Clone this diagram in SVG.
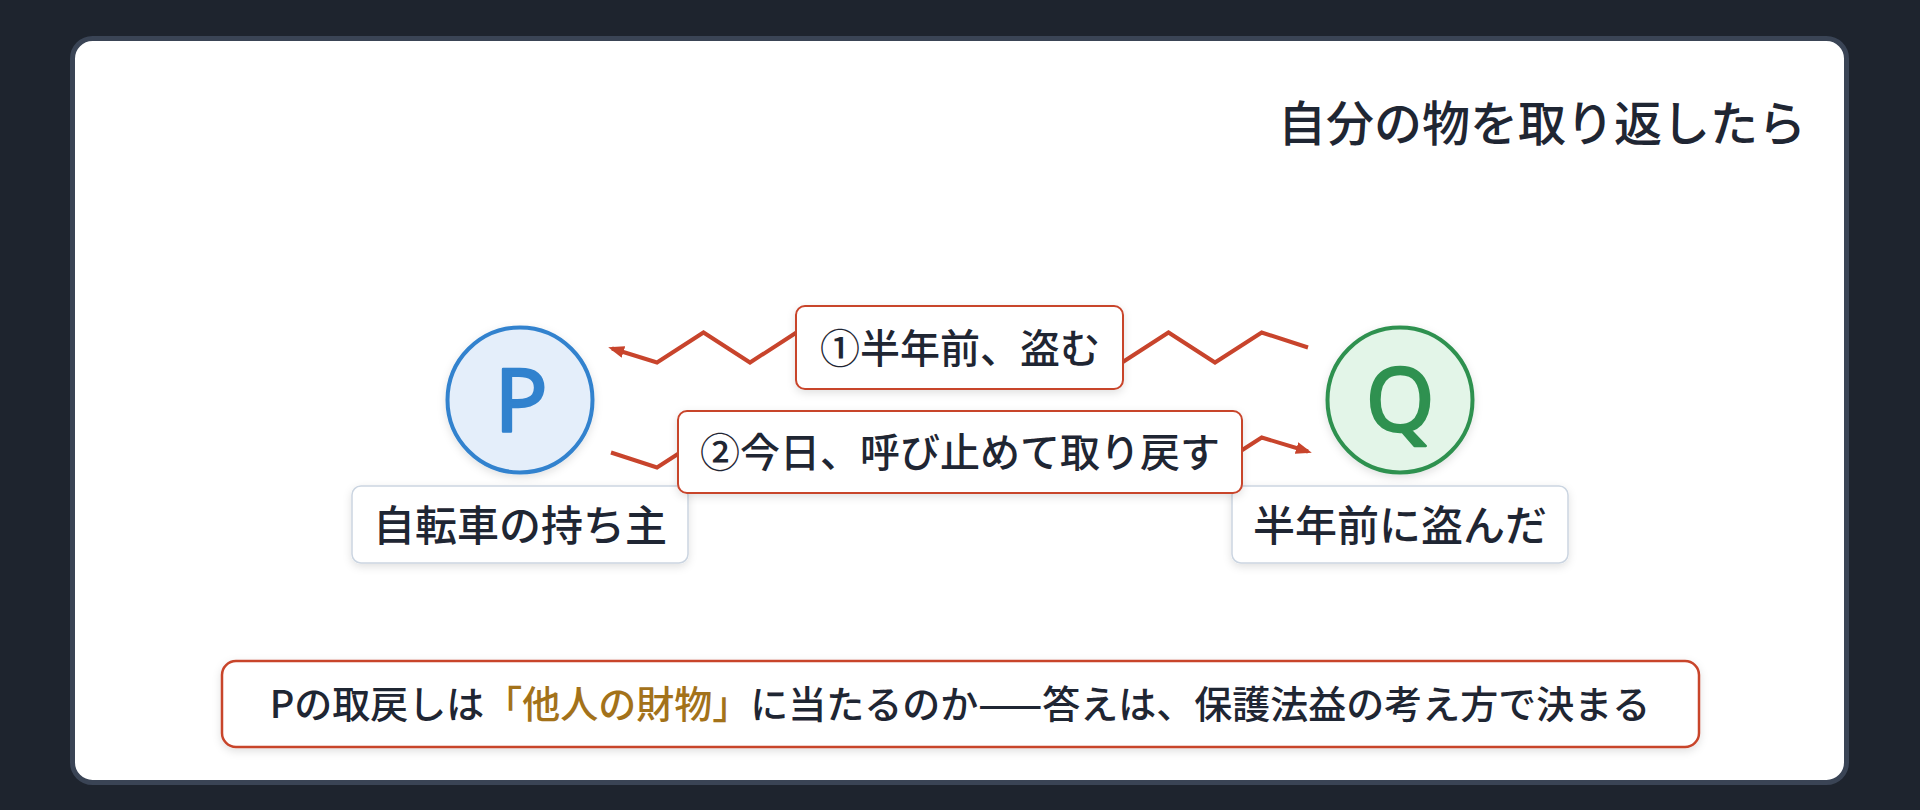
<svg xmlns="http://www.w3.org/2000/svg" width="1920" height="810" viewBox="0 0 1920 810">
<defs>
<style>
.jp{font-family:"Noto Sans CJK JP","Noto Sans",sans-serif;fill:#1f2633;}
.lbl{font-size:42px;font-weight:500;text-anchor:middle;}
.elbl{font-size:40px;font-weight:500;text-anchor:middle;}
.nodebox{fill:#ffffff;stroke:#cbd5e1;stroke-width:1.5;}
.edgebox{fill:#ffffff;stroke:#c8442c;stroke-width:2;}
.zig{fill:none;stroke:#c8442c;stroke-width:4;stroke-linejoin:miter;}
.letter{font-family:"Noto Sans","Liberation Sans",sans-serif;font-size:88px;font-weight:400;text-anchor:middle;stroke-width:2.4;stroke-linejoin:round;stroke-linecap:round;}
</style>
<filter id="sh" x="-20%" y="-30%" width="140%" height="160%">
<feDropShadow dx="0" dy="3" stdDeviation="4" flood-color="#000000" flood-opacity="0.12"/>
</filter>
<marker id="arr" viewBox="0 0 16 12" refX="12" refY="6" markerWidth="16" markerHeight="12" markerUnits="userSpaceOnUse" orient="auto">
<path d="M0,0 L16,6 L0,12 Z" fill="#c8442c"/>
</marker>
</defs>
<rect x="0" y="0" width="1920" height="810" fill="#1e242e"/>
<rect x="72.5" y="38.5" width="1774" height="744" rx="20" fill="#ffffff" stroke="#3a4455" stroke-width="5"/>
<text id="title" class="jp" x="1806" y="141" font-size="48" font-weight="500" text-anchor="end">自分の物を取り返したら</text>
<g id="connectors">
<path class="zig" d="M1308,347.5 L1261.7,332.5 L1215,362.5 L1168.5,332.5 L1122,362.5 L1075.5,332.5 L1029,362.5 L982.5,332.5 L936,362.5 L889.5,332.5 L843,362.5 L796.5,332.5 L750,362.5 L703.5,332.5 L657,362.5 L612,348.5" marker-end="url(#arr)"/>
<path class="zig" d="M611,452.5 L657,467.5 L703.5,437.5 L750,467.5 L796.5,437.5 L843,467.5 L889.5,437.5 L936,467.5 L982.5,437.5 L1029,467.5 L1075.5,437.5 L1122,467.5 L1168.5,437.5 L1215,467.5 L1261.7,437.5 L1308,451.5" marker-end="url(#arr)"/>
</g>
<g id="nodeP">
<circle cx="520" cy="400" r="72.5" fill="#e4eefa" stroke="#3182ce" stroke-width="4" filter="url(#sh)"/>
<text class="letter" x="521" y="431" fill="#3182ce" stroke="#3182ce">P</text>
<rect class="nodebox" x="352" y="486" width="336" height="77" rx="9" filter="url(#sh)"/>
<text class="jp lbl" x="520" y="540.5">自転車の持ち主</text>
</g>
<g id="nodeQ">
<circle cx="1400" cy="400" r="72.5" fill="#e3f5e8" stroke="#2f9150" stroke-width="4" filter="url(#sh)"/>
<text class="letter" x="1400" y="431" fill="#2f9150" stroke="#2f9150">Q</text>
<rect class="nodebox" x="1232" y="486" width="336" height="77" rx="9" filter="url(#sh)"/>
<text class="jp lbl" x="1400" y="540.5">半年前に盗んだ</text>
</g>
<g id="edgeLabel1">
<rect class="edgebox" x="796" y="306" width="327" height="83" rx="9" filter="url(#sh)"/>
<text class="jp elbl" x="960" y="362.5">①半年前、盗む</text>
</g>
<g id="edgeLabel2">
<rect class="edgebox" x="678" y="411" width="564" height="82" rx="9" filter="url(#sh)"/>
<text class="jp elbl" x="960" y="467">②今日、呼び止めて取り戻す</text>
</g>
<g id="conclusion">
<rect x="222" y="661" width="1477" height="86" rx="14" fill="#ffffff" stroke="#c8442c" stroke-width="2.5" filter="url(#sh)"/>
<text class="jp" x="960" y="718" font-size="38" font-weight="500" text-anchor="middle">Pの取戻しは<tspan fill="#a3721a">「他人の財物」</tspan>に当たるのか——答えは、保護法益の考え方で決まる</text>
</g>
</svg>
